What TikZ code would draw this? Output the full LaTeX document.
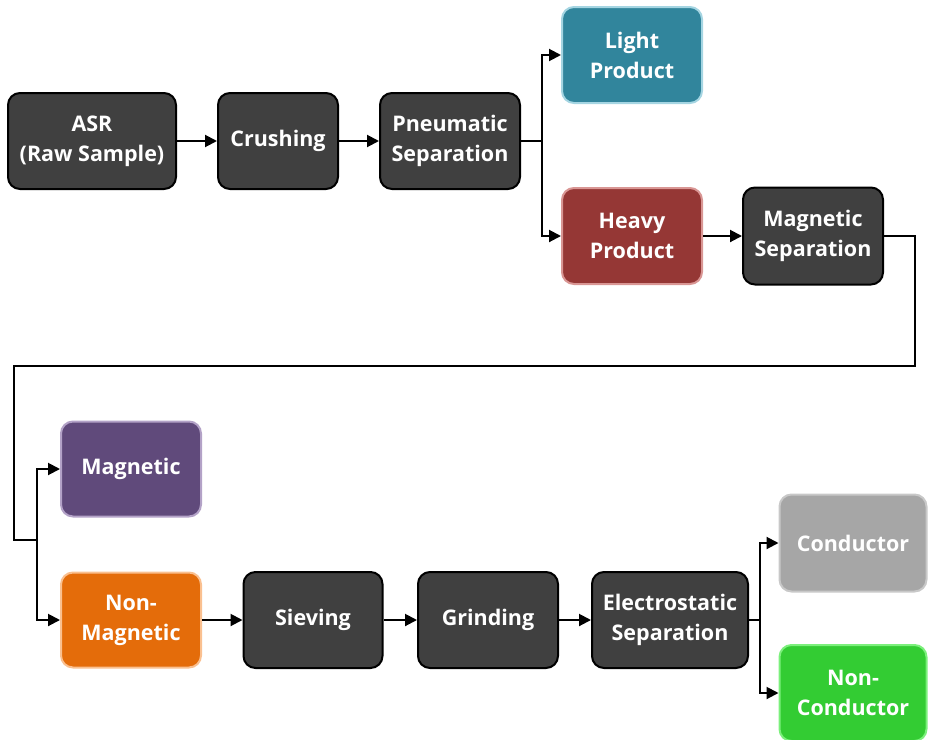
\documentclass[tikz,border=0pt]{standalone}
\usepackage{fontspec}
\setmainfont{Open Sans}[BoldFont={Open Sans Bold}]
\usetikzlibrary{arrows.meta,calc}
\definecolor{dark}{HTML}{404040}
\definecolor{lightc}{HTML}{31859C}\definecolor{lightb}{HTML}{A5D5E2}
\definecolor{heavyc}{HTML}{953735}\definecolor{heavyb}{HTML}{D99694}
\definecolor{magc}{HTML}{604A7B}\definecolor{magb}{HTML}{B3A2C7}
\definecolor{nmagc}{HTML}{E46C0A}\definecolor{nmagb}{HTML}{FAC090}
\definecolor{condc}{HTML}{A6A6A6}\definecolor{condb}{HTML}{C8C8C8}
\definecolor{ncondc}{HTML}{33CC33}\definecolor{ncondb}{HTML}{7CF07C}
\tikzset{
  box/.style={rectangle, rounded corners=12pt, line width=2pt, text=white,
    align=center, font=\fontsize{21.5}{30}\selectfont\bfseries, inner sep=0pt},
  procbox/.style={box, fill=dark, draw=black},
  conn/.style={line width=2pt, -{Triangle[length=12pt,width=12pt]}},
  plain/.style={line width=2pt},
}
\begin{document}
\begin{tikzpicture}[x=1pt,y=-1pt]
\useasboundingbox (0,0) rectangle (928,739);
\node[procbox, minimum width=168pt, minimum height=96pt] (asr) at (92,141) {ASR\\(Raw Sample)};
\node[procbox, minimum width=120pt, minimum height=96pt] (crush) at (278,141) {Crushing};
\node[procbox, minimum width=140pt, minimum height=96pt] (pneu) at (450,141) {Pneumatic\\Separation};
\node[box, fill=lightc, draw=lightb, minimum width=140pt, minimum height=96pt] (light) at (632,55) {Light\\Product};
\node[box, fill=heavyc, draw=heavyb, minimum width=140pt, minimum height=96pt] (heavy) at (632,236) {Heavy\\Product};
\node[procbox, minimum width=140pt, minimum height=97pt] (magsep) at (813,236) {Magnetic\\Separation};
\node[box, fill=magc, draw=magb, minimum width=140pt, minimum height=95pt] (mag) at (131,469) {Magnetic};
\node[box, fill=nmagc, draw=nmagb, minimum width=140pt, minimum height=95pt] (nmag) at (131,620) {Non-\\Magnetic};
\node[procbox, minimum width=139pt, minimum height=96pt] (sieve) at (313,620) {Sieving};
\node[procbox, minimum width=140pt, minimum height=96pt] (grind) at (488,620) {Grinding};
\node[procbox, minimum width=156pt, minimum height=96pt] (elec) at (670,620) {Electrostatic\\Separation};
\node[box, fill=condc, draw=condb, minimum width=147pt, minimum height=97pt] (cond) at (853,543) {Conductor};
\node[box, fill=ncondc, draw=ncondb, minimum width=147pt, minimum height=96pt] (ncond) at (853,693) {Non-\\Conductor};

\coordinate (b1) at (542,141);
\coordinate (r1) at (915,236);
\coordinate (r2) at (915,366);
\coordinate (l1) at (14,366);
\coordinate (l2) at (14,540);
\coordinate (b2) at (37,540);
\coordinate (b3) at (760,620);

\draw[conn] (asr) -- (crush);
\draw[conn] (crush) -- (pneu);
\draw[plain] (pneu.east) -- (b1);
\draw[conn] (b1) |- (light.west);
\draw[conn] (b1) |- (heavy.west);
\draw[conn] (heavy) -- (magsep);
\draw[plain] (magsep.east) -- (r1) -- (r2) -- (l1) -- (l2) -- (b2);
\draw[conn] (b2) |- (mag.west);
\draw[conn] (b2) |- (nmag.west);
\draw[conn] (nmag) -- (sieve);
\draw[conn] (sieve) -- (grind);
\draw[conn] (grind) -- (elec);
\draw[plain] (elec.east) -- (b3);
\draw[conn] (b3) |- (cond.west);
\draw[conn] (b3) |- (ncond.west);
\end{tikzpicture}
\end{document}
